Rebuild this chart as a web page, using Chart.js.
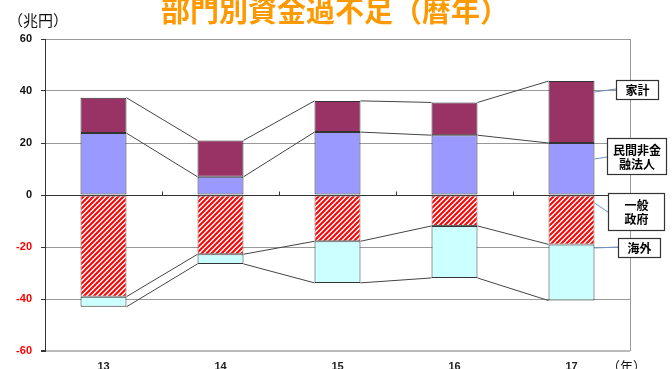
<!DOCTYPE html>
<html lang="ja">
<head>
  <meta charset="UTF-8">
  <title>部門別資金過不足（暦年）</title>
  <script src="https://cdn.jsdelivr.net/npm/chart.js"></script>
  <style>
    body {
      margin: 0;
      background: #fff;
    }
    #wrap {
      width: 672px;
      height: 369px;
      position: relative;
    }
  </style>
</head>
<body>
  <div id="wrap">
    <canvas id="flowChart" width="672" height="369"></canvas>
  </div>

  <script>
  // 暦年（平成）と各部門の資金過不足（兆円）
  const years = ['13', '14', '15', '16', '17'];
  const corporate = [23.8, 7.0, 24.2, 23.0, 20.0];       // 民間非金融法人
  const household = [13.6, 14.0, 12.0, 12.6, 23.8];      // 家計
  const government = [-39.1, -22.8, -17.8, -11.9, -19.0]; // 一般政府
  const overseas = [-3.9, -3.7, -16.0, -20.0, -21.6];     // 海外
  const yTicks = [60, 40, 20, 0, -20, -40, -60];

  const JP_FONT = '"Noto Sans CJK JP", "Noto Sans", sans-serif';
  const NUM_FONT = '"Liberation Sans", Arial, sans-serif';

  // 右側の凡例ボックス（位置は px）
  const callouts = [
    { lines: ['家計'], box: [616, 80, 42, 19], from: 92, to: [616, 89] },
    { lines: ['民間非金', '融法人'], box: [607, 138, 59, 36], from: 159, to: [607, 157] },
    { lines: ['一般', '政府'], box: [608, 193, 56, 37], from: 203, to: [608, 212] },
    { lines: ['海外'], box: [618, 238, 42, 19], from: 248, to: [618, 247] }
  ];

  // 赤の斜線パターン
  function makeHatch() {
    const s = 5;
    const c = document.createElement('canvas');
    c.width = s;
    c.height = s;
    const g = c.getContext('2d');
    g.fillStyle = '#fff';
    g.fillRect(0, 0, s, s);
    g.strokeStyle = '#ff0000';
    g.lineWidth = 2;
    g.beginPath();
    g.moveTo(-1, s + 1); g.lineTo(s + 1, -1);
    g.moveTo(-1, 1); g.lineTo(1, -1);
    g.moveTo(s - 1, s + 1); g.lineTo(s + 1, s - 1);
    g.stroke();
    return g.createPattern(c, 'repeat');
  }

  // 棒の間をつなぐ線・目盛り・枠
  const extras = {
    id: 'extras',
    beforeDatasetsDraw(chart) {
      const ctx = chart.ctx;
      const area = chart.chartArea;
      const y = chart.scales.y;
      const bars = chart.getDatasetMeta(0).data;
      ctx.save();
      ctx.strokeStyle = '#999';
      ctx.lineWidth = 1;
      ctx.beginPath();
      ctx.moveTo(area.right + 0.5, area.top);
      ctx.lineTo(area.right + 0.5, area.bottom);
      ctx.stroke();
      // 0 線上の区切り目盛り
      ctx.strokeStyle = '#333';
      const y0 = Math.round(y.getPixelForValue(0)) + 0.5;
      ctx.beginPath();
      for (let i = 0; i < bars.length - 1; i++) {
        const mx = Math.round((bars[i].x + bars[i + 1].x) / 2) + 0.5;
        ctx.moveTo(mx, y0);
        ctx.lineTo(mx, y0 - 4);
      }
      ctx.stroke();
      ctx.restore();
    },
    afterDatasetsDraw(chart) {
      const ctx = chart.ctx;
      const y = chart.scales.y;
      const bars = chart.getDatasetMeta(0).data;
      const levels = [
        corporate,
        corporate.map((v, i) => v + household[i]),
        government,
        government.map((v, i) => v + overseas[i])
      ];
      ctx.save();
      ctx.strokeStyle = '#444';
      ctx.lineWidth = 1;
      ctx.beginPath();
      levels.forEach(lv => {
        for (let i = 0; i < bars.length - 1; i++) {
          const a = bars[i], b = bars[i + 1];
          ctx.moveTo(a.x + a.width / 2, y.getPixelForValue(lv[i]));
          ctx.lineTo(b.x - b.width / 2, y.getPixelForValue(lv[i + 1]));
        }
      });
      ctx.stroke();
      ctx.restore();
    },
    afterDraw(chart) {
      const ctx = chart.ctx;
      const bars = chart.getDatasetMeta(0).data;
      const last = bars[bars.length - 1];
      const edge = last.x + last.width / 2;
      ctx.save();

      // タイトル
      ctx.fillStyle = '#ff9900';
      ctx.font = 'bold 29px ' + JP_FONT;
      ctx.textAlign = 'center';
      ctx.textBaseline = 'alphabetic';
      ctx.fillText('部門別資金過不足（暦年）', 335, 22);

      // 単位
      ctx.fillStyle = '#111';
      ctx.font = '15px ' + JP_FONT;
      ctx.textAlign = 'left';
      ctx.textBaseline = 'middle';
      ctx.fillText('（兆円）', 8, 20);
      ctx.font = '13px ' + JP_FONT;
      ctx.fillText('（年）', 607, 366);

      // 凡例ボックス
      callouts.forEach(c => {
        ctx.strokeStyle = '#6f8fc4';
        ctx.lineWidth = 1;
        ctx.beginPath();
        ctx.moveTo(edge, c.from);
        ctx.lineTo(c.to[0], c.to[1]);
        ctx.stroke();
        const [bx, by, bw, bh] = c.box;
        ctx.fillStyle = '#fff';
        ctx.fillRect(bx, by, bw, bh);
        ctx.strokeStyle = '#333';
        ctx.lineWidth = 1.2;
        ctx.strokeRect(bx + 0.5, by + 0.5, bw, bh);
        ctx.fillStyle = '#000';
        ctx.font = 'bold 12px ' + JP_FONT;
        ctx.textAlign = 'center';
        const lh = 14;
        const top = by + bh / 2 - (c.lines.length - 1) * lh / 2 + 1;
        c.lines.forEach((t, k) => ctx.fillText(t, bx + bw / 2 + 0.5, top + k * lh));
      });
      ctx.restore();
    }
  };

  const barStyle = { borderColor: '#333', borderWidth: 1, borderSkipped: false, barPercentage: 0.393, categoryPercentage: 1 };

  new Chart(document.getElementById('flowChart').getContext('2d'), {
    type: 'bar',
    data: {
      labels: years,
      datasets: [
        Object.assign({ label: '民間非金融法人', data: corporate, backgroundColor: '#9999ff' }, barStyle),
        Object.assign({ label: '家計', data: household, backgroundColor: '#993366' }, barStyle),
        Object.assign({ label: '一般政府', data: government, backgroundColor: makeHatch() }, barStyle, { borderColor: '#666' }),
        Object.assign({ label: '海外', data: overseas, backgroundColor: '#ccffff' }, barStyle)
      ]
    },
    options: {
      responsive: false,
      animation: false,
      devicePixelRatio: 1,
      layout: { padding: { top: 39, right: 42, left: 0, bottom: 0 } },
      plugins: {
        legend: { display: false },
        tooltip: { enabled: false },
        title: { display: false }
      },
      scales: {
        x: {
          stacked: true,
          afterFit: s => { s.height = 18; },
          grid: { display: false, drawTicks: false },
          border: { display: false },
          ticks: {
            color: '#222',
            padding: 9,
            font: { family: NUM_FONT, size: 11, weight: 'bold' }
          }
        },
        y: {
          stacked: true,
          min: -60,
          max: 60,
          afterFit: s => { s.width = 45; },
          afterBuildTicks: s => { s.ticks = yTicks.map(v => ({ value: v })); },
          border: { display: true, color: '#333', width: 1 },
          grid: {
            drawTicks: true,
            tickLength: 4,
            tickColor: '#333',
            color: c => {
              const v = c.tick.value;
              if (v === 0) return '#333';
              if (v === -60) return '#bbb';
              return '#999';
            },
            lineWidth: c => (c.tick.value === -60 ? 2 : 1)
          },
          ticks: {
            padding: 9,
            color: c => (c.tick.value < 0 ? '#ff0000' : '#111'),
            font: { family: NUM_FONT, size: 11, weight: 'bold' }
          }
        }
      }
    },
    plugins: [extras]
  });
  </script>
</body>
</html>
